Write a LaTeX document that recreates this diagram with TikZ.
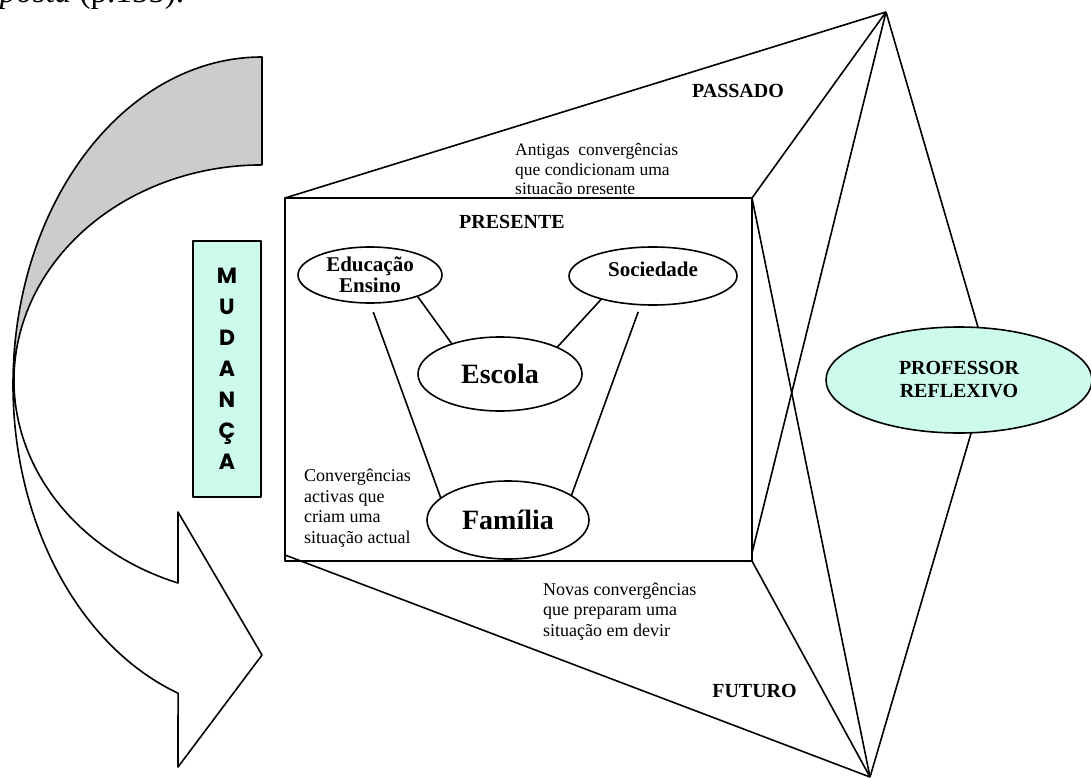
\documentclass[tikz,border=0pt]{standalone}
\usepackage{fontspec}
\setmainfont{Liberation Serif}
\newfontfamily\geo{Poppins}
\usetikzlibrary{shapes.geometric}
\definecolor{mint}{HTML}{CCFBEE}
\definecolor{band}{HTML}{CCCCCC}
\pgfdeclarelayer{bg}
\pgfsetlayers{bg,main}
\begin{document}
\begin{tikzpicture}[x=1pt,y=-1pt,line width=1.6pt,line join=round,
  conn/.style={draw=black,line width=1.6pt},
  oval/.style={ellipse,draw,line width=1.6pt,fill=white,inner sep=-12pt,outer sep=0pt,align=center},
  note/.style={align=left,anchor=base west,inner sep=0,font=\fontsize{18}{20.5}\selectfont},
  era/.style={anchor=base,inner sep=0,font=\bfseries\fontsize{20}{20}\selectfont}]
\useasboundingbox (0,0) rectangle (1091,778);
\clip (0,0) rectangle (1091,778);

% caption fragment cut at the top
\node[anchor=base east,inner sep=0,font=\fontsize{33}{33}\selectfont] (cap) at (185,3) {\textit{posta} (p.155).};

% curved arrow
\fill[band] (262,57) arc[start angle=-90,end angle=-180,x radius=249,y radius=327.7]
  -- (14,380.4) arc[start angle=-180,end angle=-90,x radius=248,y radius=215.4] -- cycle;
\draw (262,57) arc[start angle=-90,end angle=-250.3,x radius=249,y radius=327.7]
  -- (178,767) -- (262,655) -- (178,512) -- (178,583)
  arc[start angle=-250.2,end angle=-90,x radius=248,y radius=215.4] -- cycle;

% MUDANCA box
\node[draw,fill=mint,minimum width=68pt,minimum height=256pt,inner sep=0,align=center,
  font=\geo\bfseries\fontsize{22}{31}\selectfont] (mud) at (227,369) {M\\U\\D\\A\\N\\Ç\\A};

% present rectangle
\node[draw,line width=1.8pt,minimum width=467pt,minimum height=363pt,inner sep=0,outer sep=0] (pres) at (518.5,379.5) {};

\coordinate (top) at (886,12);
\coordinate (bot) at (870,777);

\node[oval,fill=mint,minimum width=266pt,minimum height=106pt,
  font=\bfseries\fontsize{20}{23}\selectfont] (prof) at (959,380) {PROFESSOR\\REFLEXIVO};

\node[oval,minimum width=144pt,minimum height=56pt,font=\bfseries\fontsize{21}{21}\selectfont] (edu) at (370,275) {Educação\\Ensino};
\node[oval,minimum width=168pt,minimum height=58pt,font=\bfseries\fontsize{21}{21}\selectfont] (soc) at (653,276) {\raisebox{-0.7pt}[0pt][0pt]{Sociedade}};
\node[oval,minimum width=164pt,minimum height=74pt,font=\bfseries\fontsize{28}{28}\selectfont] (esc) at (500,374) {Escola};
\node[oval,minimum width=162pt,minimum height=78pt,font=\bfseries\fontsize{28}{28}\selectfont] (fam) at (508,520) {Família};

\begin{pgfonlayer}{bg}
\draw[conn] (top) -- (pres.north west);
\draw[conn] (top) -- (pres.north east);
\draw[conn] (top) -- ([yshift=8pt]pres.south east);
\draw[conn] (top) -- (prof.70);
\draw[conn] (bot) -- ([yshift=6pt]pres.south west);
\draw[conn] (bot) -- (pres.south east);
\draw[conn] (bot) -- (pres.north east);
\draw[conn] (bot) -- (prof.-77);
\draw[conn] (edu.-24) -- (esc.148);
\draw[conn] (soc.-156) -- (esc.25);
\draw[conn,shorten <=9.6pt] (edu.south) -- (fam.162);
\draw[conn,shorten <=7.6pt] (soc.-113) -- (fam.21);
\end{pgfonlayer}

\node[era] (passado) at (738,98) {PASSADO};
\node[era,anchor=base east] (presente) at (565,228) {PRESENTE};
\node[era] (futuro) at (754.5,697) {FUTURO};

\begin{scope}
\clip (0,0) rectangle (1091,193);
\node[note,font=\fontsize{17.5}{19.5}\selectfont] (antigas) at (515,194.5) {Antigas\ \ convergências\\que condicionam uma\\situação presente};
\end{scope}
\node[note] (activas) at (304,543) {Convergências\\activas que\\criam uma\\situação actual};
\node[note] (novas) at (543,636) {Novas convergências\\que preparam uma\\situação em devir};
\end{tikzpicture}
\end{document}
